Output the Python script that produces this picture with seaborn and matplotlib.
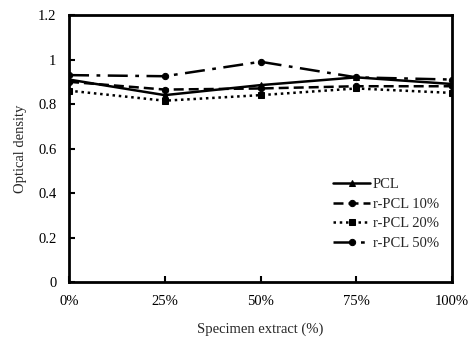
import matplotlib
matplotlib.use("Agg")
import matplotlib.pyplot as plt
import seaborn as sns
import pandas as pd

categories = ["0%", "25%", "50%", "75%", "100%"]
pcl = [0.91, 0.84, 0.885, 0.92, 0.89]
rpcl10 = [0.90, 0.865, 0.87, 0.88, 0.88]
rpcl20 = [0.86, 0.815, 0.84, 0.87, 0.85]
rpcl50 = [0.93, 0.925, 0.99, 0.92, 0.91]
series_names = ["PCL", "r-PCL 10%", "r-PCL 20%", "r-PCL 50%"]

sns.set_theme(style="white")
plt.rcParams['font.family'] = ['Liberation Serif', 'DejaVu Serif']

rows = []
for name, vals in zip(series_names, [pcl, rpcl10, rpcl20, rpcl50]):
    for i, (c, v) in enumerate(zip(categories, vals)):
        rows.append({"x": i, "cat": c, "value": v, "series": name})
df = pd.DataFrame(rows)

fig = plt.figure(figsize=(4.77, 3.42), dpi=100)
ax = fig.add_axes([0.1447, 0.1754, 0.803, 0.7806])

styles = {
    "PCL": dict(linestyle="-", marker="^"),
    "r-PCL 10%": dict(linestyle=(0, (4, 2)), marker="o"),
    "r-PCL 20%": dict(linestyle=(0, (1, 1.5)), marker="s"),
    "r-PCL 50%": dict(linestyle=(0, (8, 3, 1.5, 3)), marker="o"),
}
for name in series_names:
    sub = df[df.series == name]
    st = styles[name]
    sns.lineplot(data=sub, x="x", y="value", ax=ax, color="black", linewidth=1.8,
                 linestyle=st["linestyle"], marker=st["marker"], markersize=4.5,
                 markeredgecolor="black", label=name)

ax.set_xlim(0, 4)
ax.set_ylim(0, 1.2)
ax.set_xticks(range(5))
ax.set_xticklabels(categories)
ax.set_yticks([0, 0.2, 0.4, 0.6, 0.8, 1.0, 1.2])
ax.set_yticklabels(["0", "0.2", "0.4", "0.6", "0.8", "1", "1.2"])
ax.tick_params(direction="in", length=4, width=1.5, labelsize=10.5, colors="black",
               left=True, bottom=True, pad=9)
for s in ax.spines.values():
    s.set_linewidth(2)
    s.set_color("black")
ax.set_xlabel("Specimen extract (%)", fontsize=10.5, labelpad=11)
ax.set_ylabel("Optical density", fontsize=10.5, labelpad=8)
leg = ax.legend(loc="lower right", bbox_to_anchor=(1.0, 0.07), frameon=False,
                fontsize=10.5, handlelength=2.5, handletextpad=0.2, labelspacing=0.45)
fig.savefig("out.png", dpi=100)
